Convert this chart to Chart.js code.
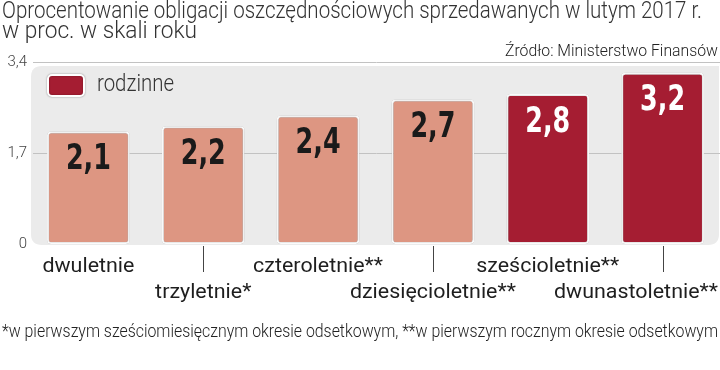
<!DOCTYPE html>
<html><head><meta charset="utf-8">
<script src="https://cdn.jsdelivr.net/npm/chart.js@4"></script>
<style>
html,body{margin:0;padding:0;background:#fff;}
#wrap{position:relative;width:720px;height:370px;overflow:hidden;color:#333;}
.fit{position:absolute;white-space:nowrap;transform-origin:0 0;font-family:Roboto,sans-serif;font-weight:300;}
#t1{left:2px;top:-3px;font-size:23px;color:#333;}
#t2{left:2px;top:17px;font-size:23px;color:#333;}
#src{top:40px;font-size:17px;color:#222;}
#foot{left:2px;top:320px;font-size:18px;color:#222;}
#c{position:absolute;left:0;top:0;}
</style></head><body>
<div id="wrap">
<canvas id="c" width="720" height="370"></canvas>
<div id="t1" class="fit" data-w="700">Oprocentowanie obligacji oszczędnościowych sprzedawanych w lutym 2017 r.</div>
<div id="t2" class="fit" data-w="195">w proc. w skali roku</div>
<div id="src" class="fit" data-w="213" data-right="718">Źródło: Ministerstwo Finansów</div>
<div id="foot" class="fit" data-w="716">*w pierwszym sześciomiesięcznym okresie odsetkowym, **w pierwszym rocznym okresie odsetkowym</div>
</div>
<script>
const categories = ['dwuletnie','trzyletnie*','czteroletnie**','dziesięcioletnie**','sześcioletnie**','dwunastoletnie**'];
const values = [2.1, 2.2, 2.4, 2.7, 2.8, 3.2];
const familyFlags = [false, false, false, false, true, true];
const yTicks = [0, 1.7, 3.4];
const yTickLabels = ['0', '1,7', '3,4'];
const legendLabel = 'rodzinne';

const SALMON = '#DD9682';
const DARK = '#A51D32';
const COND = '"DejaVu Sans Condensed","DejaVu Sans",sans-serif';
const LIGHT = 'Roboto,sans-serif';

const fmt = v => v.toFixed(1).replace('.', ',');

document.querySelectorAll('.fit').forEach(el => {
  const w = el.getBoundingClientRect().width;
  const target = +el.dataset.w;
  el.style.transform = 'scaleX(' + (target / w) + ')';
  if (el.dataset.right) el.style.left = (+el.dataset.right - target) + 'px';
});

function fitText(ctx, text, x, y, targetW, align) {
  const w = ctx.measureText(text).width;
  const s = targetW / w;
  ctx.save();
  ctx.translate(x, y);
  ctx.scale(s, 1);
  ctx.textAlign = align;
  ctx.fillText(text, 0, 0);
  ctx.restore();
}

const panelPlugin = {
  id: 'panel',
  beforeDraw(chart) {
    const {ctx, chartArea: a, scales: {y}} = chart;
    ctx.save();
    const top = y.getPixelForValue(3.4) + 4, bottom = y.getPixelForValue(0) + 1;
    const l = a.left, r = a.right - 1, rad = 11;
    ctx.fillStyle = '#EBEBEB';
    ctx.beginPath();
    ctx.moveTo(l + rad, top);
    ctx.lineTo(r, top);
    ctx.lineTo(r, bottom - rad);
    ctx.quadraticCurveTo(r, bottom, r - rad, bottom);
    ctx.lineTo(l + rad, bottom);
    ctx.quadraticCurveTo(l, bottom, l, bottom - rad);
    ctx.lineTo(l, top + rad);
    ctx.quadraticCurveTo(l, top, l + rad, top);
    ctx.fill();
    ctx.strokeStyle = '#C2C2C2';
    ctx.lineWidth = 1;
    [3.4, 1.7].forEach(v => {
      const py = Math.round(y.getPixelForValue(v)) + 0.5;
      ctx.beginPath(); ctx.moveTo(a.left + 2, py); ctx.lineTo(a.right, py); ctx.stroke();
    });
    ctx.restore();
  },
  beforeDatasetsDraw(chart) {
    const ctx = chart.ctx;
    ctx.save();
    ctx.shadowColor = 'rgba(0,0,0,0.35)';
    ctx.shadowBlur = 2;
  },
  afterDatasetsDraw(chart) {
    const {ctx, scales: {x, y}} = chart;
    ctx.restore();
    const meta = chart.getDatasetMeta(0);
    ctx.save();
    ctx.textBaseline = 'top';
    ctx.font = 'bold 35px ' + COND;
    const sx = 45 / ctx.measureText('2,2').width;
    meta.data.forEach((bar, i) => {
      ctx.fillStyle = familyFlags[i] ? '#ffffff' : '#1a1a1a';
      ctx.save();
      ctx.translate(bar.x, bar.y + 11);
      ctx.scale(sx, 1);
      ctx.textAlign = 'center';
      ctx.fillText(fmt(values[i]), 0, 0);
      ctx.restore();
    });
    const y0 = y.getPixelForValue(0);
    ctx.font = '21px ' + LIGHT;
    ctx.fillStyle = '#1e1e1e';
    ctx.textBaseline = 'alphabetic';
    const lsx = 92 / ctx.measureText(categories[0]).width;
    categories.forEach((c, i) => {
      const px = x.getPixelForValue(i);
      const w = ctx.measureText(c).width * lsx;
      let cx = px;
      if (cx + w / 2 > chart.width - 2) cx = chart.width - 2 - w / 2;
      const by = i % 2 === 0 ? y0 + 28 : y0 + 54;
      ctx.save();
      ctx.translate(cx, by);
      ctx.scale(lsx, 1);
      ctx.textAlign = 'center';
      ctx.fillText(c, 0, 0);
      ctx.restore();
      if (i % 2 === 1) {
        const lx = Math.round(px) + 0.5;
        ctx.strokeStyle = '#444';
        ctx.lineWidth = 1;
        ctx.beginPath(); ctx.moveTo(lx, y0 + 2); ctx.lineTo(lx, y0 + 28); ctx.stroke();
      }
    });
    const lx = 48, ly = 75;
    ctx.save();
    ctx.shadowColor = 'rgba(0,0,0,0.35)';
    ctx.shadowBlur = 2;
    ctx.fillStyle = DARK;
    ctx.strokeStyle = '#fff';
    ctx.lineWidth = 2;
    ctx.beginPath();
    ctx.roundRect(lx, ly, 36, 21, 4);
    ctx.fill(); ctx.stroke();
    ctx.restore();
    ctx.fillStyle = '#333';
    ctx.font = '300 23px ' + LIGHT;
    ctx.textBaseline = 'middle';
    fitText(ctx, legendLabel, 97, ly + 10, 77, 'left');
    ctx.restore();
  }
};

new Chart(document.getElementById('c'), {
  type: 'bar',
  data: {
    labels: categories,
    datasets: [{
      data: values,
      backgroundColor: familyFlags.map(f => f ? DARK : SALMON),
      borderColor: '#ffffff',
      borderWidth: 2,
      borderRadius: 4,
      borderSkipped: false,
      categoryPercentage: 0.72,
      barPercentage: 1
    }]
  },
  options: {
    responsive: false,
    animation: false,
    devicePixelRatio: 1,
    layout: { padding: { left: 0, right: 0, top: 62, bottom: 0 } },
    plugins: { legend: { display: false }, tooltip: { enabled: false } },
    scales: {
      x: {
        grid: { display: false, drawTicks: false },
        border: { display: false },
        afterFit: s => { s.height = 126; s.paddingLeft = 0; s.paddingRight = 0; },
        ticks: { display: false }
      },
      y: {
        min: 0, max: 3.4,
        afterBuildTicks: s => { s.ticks = yTicks.map(v => ({value: v})); },
        afterFit: s => { s.width = 31; s.paddingTop = 0; s.paddingBottom = 0; },
        grid: { display: false, drawTicks: false },
        border: { display: false },
        ticks: { color: '#444', font: { family: LIGHT, size: 15, weight: 300 }, padding: 4,
          callback: (v) => yTickLabels[yTicks.indexOf(v)] ?? '' }
      }
    }
  },
  plugins: [panelPlugin]
});
</script>
</body></html>
